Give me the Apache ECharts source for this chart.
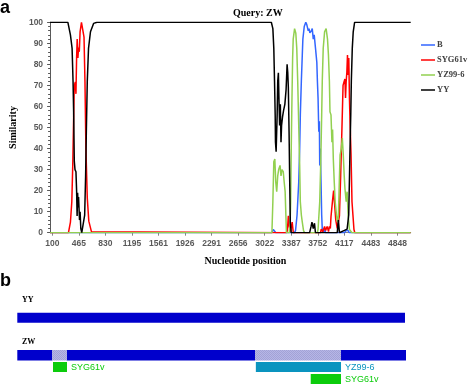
<!DOCTYPE html>
<html>
<head>
<meta charset="utf-8">
<script src="https://cdn.jsdelivr.net/npm/echarts@6.0.0/dist/echarts.min.js"></script>
<style>
  html, body { margin: 0; padding: 0; background: #fff; }
  #chart { width: 473px; height: 384px; }
</style>
</head>
<body>
<div id="chart"></div>
<script>
// similarity plot, query ZW as [nucleotide, similarity %]
const posTicks = [100, 465, 830, 1195, 1561, 1926, 2291, 2656, 3022, 3387, 3752, 4117, 4483, 4848];
const seriesNames = ["B", "SYG61v", "YZ99-6", "YY"];

const simB = [
  [68, 0], [3120, 0], [3140, 1.5], [3160, 1.5], [3175, 0], [3430, 0], [3446, 1], [3467, 8.4],
  [3490, 24], [3503, 40], [3512, 56], [3526, 72], [3539, 84.5], [3547, 92], [3566, 98], [3587, 100],
  [3600, 99], [3610, 98.7], [3621, 96], [3632, 97], [3643, 95], [3654, 95.5], [3665, 96], [3676, 97],
  [3690, 92], [3703, 94], [3721, 87.6], [3739, 81], [3747, 72], [3756, 64], [3766, 48], [3774, 53],
  [3779, 32], [3787, 40], [3797, 24], [3806, 8.4], [3814, 1.5], [3830, 0], [3845, 2], [3860, 0],
  [4120, 0], [4140, 1], [4170, 1], [4185, 0], [5031, 0]
];
const simSYG61v = [
  [68, 0], [321, 0], [348, 5], [367, 14.7], [380, 32], [393, 56], [401, 70], [415, 71.6], [424, 66],
  [433, 83], [441, 92], [451, 83], [460, 88], [470, 86], [481, 95.5], [500, 100], [521, 100],
  [535, 93], [548, 72], [561, 40], [580, 16.5], [601, 5.5], [637, 0.5], [655, 0],
  [3320, 0], [3334, 1], [3347, 8], [3360, 3], [3375, 0.5], [3400, 5], [3415, 0], [3790, 0],
  [3800, 1.7], [3820, 0.5], [3846, 3], [3860, 1], [3881, 3], [3900, 0.5], [3912, 3], [3925, 2],
  [3934, 7.6], [3956, 15.5], [3970, 20], [3985, 13], [4000, 6], [4020, 2], [4036, 2], [4050, 8],
  [4067, 27], [4085, 50], [4100, 70], [4116, 72], [4126, 73], [4134, 64], [4143, 72], [4152, 76],
  [4161, 84.5], [4170, 75], [4179, 83], [4188, 64], [4196, 53], [4210, 37], [4223, 14.7],
  [4236, 8.4], [4250, 1.5], [4262, 0], [5031, 0]
];
const simYZ99 = [
  [68, 0], [3121, 0], [3134, 14.7], [3147, 33.7], [3161, 35], [3174, 24], [3187, 19.5], [3201, 27],
  [3214, 30], [3233, 32], [3246, 27], [3259, 30], [3277, 29], [3290, 24], [3303, 19.5], [3313, 8.4],
  [3321, 0], [3360, 0], [3370, 3], [3379, 14.7], [3387, 40], [3397, 64], [3406, 83], [3414, 92],
  [3433, 97], [3450, 94.8], [3463, 87.6], [3476, 72], [3490, 51], [3503, 32], [3512, 14.7],
  [3526, 8.4], [3539, 5], [3556, 1], [3570, 0], [3745, 0], [3756, 1.5], [3779, 14.7], [3792, 32],
  [3806, 56], [3814, 72], [3827, 87.6], [3846, 95.5], [3867, 97], [3886, 92], [3899, 84.5],
  [3912, 72], [3920, 57.5], [3934, 56], [3947, 43], [3956, 49], [3966, 35], [3979, 24],
  [3992, 14.7], [4010, 8.4], [4023, 5], [4036, 8], [4046, 21], [4059, 37], [4076, 40], [4090, 45],
  [4103, 37], [4116, 27], [4126, 21], [4143, 14.7], [4156, 19.5], [4170, 8.4], [4188, 1.5],
  [4223, 0], [5031, 0]
];
const simYY = [
  [68, 100], [313, 100], [348, 94], [371, 87.6], [384, 72], [393, 56], [401, 34], [411, 30],
  [424, 29], [433, 20], [440, 8], [447, 19], [455, 12], [460, 17], [473, 6], [481, 10], [491, 2],
  [504, 0], [527, 0], [544, 8.4], [557, 27], [567, 48], [580, 72], [597, 87.6], [624, 95.5],
  [668, 99.5], [713, 100], [3113, 100], [3134, 97], [3147, 87.6], [3157, 72], [3166, 56],
  [3170, 43], [3179, 38.5], [3193, 56], [3201, 72], [3210, 76], [3219, 62], [3227, 51], [3237, 61],
  [3246, 43], [3254, 51], [3267, 55], [3281, 58], [3299, 61], [3316, 68], [3330, 80], [3339, 76],
  [3347, 69], [3357, 48], [3366, 24], [3374, 5], [3387, 0], [3640, 0], [3660, 3], [3672, 5],
  [3690, 2], [3707, 4.5], [3720, 0], [4020, 0], [4036, 6], [4050, 0], [4112, 1], [4156, 1.7],
  [4178, 8.4], [4187, 24], [4196, 40], [4206, 56], [4214, 72], [4227, 87.6], [4240, 95.5],
  [4259, 100], [5031, 100]
];

// genome map (b): segments in nucleotides
const yyGenome = [[0, 5017]];
const zwBackbone = [[0, 453], [639, 3076], [4189, 5030]];
const zwInserts = [[453, 639], [3076, 4189]];
const donorNames = ["SYG61v", "YZ99-6", "SYG61v"];
const donorFrom = [462, 3087, 3797];
const donorTo = [643, 4189, 4189];

const lineColors = ["#3366ff", "#ff0000", "#92d050", "#000000"];
const donorColors = { "SYG61v": "#0ccc0c", "YZ99-6": "#0a94bf" };
// vertical bands of the map rows, in the bottom grid's y units (px from its top)
const bands = { yy: [22.7, 32.7], zw: [60, 70.5], donor: [[72, 82], [72, 82], [84, 94]] };

// dotted lavender fill for the recombinant stretches
const dotted = (() => {
  const c = document.createElement("canvas");
  c.width = 2;
  c.height = 2;
  const ctx = c.getContext("2d");
  ctx.fillStyle = "#b6b6e6";
  ctx.fillRect(0, 0, 2, 2);
  ctx.fillStyle = "#a2a2d6";
  ctx.fillRect(0, 0, 1, 1);
  ctx.fillRect(1, 1, 1, 1);
  return { image: c, repeat: "repeat" };
})();

const chart = echarts.init(document.getElementById("chart"), null, { renderer: "canvas" });

const bandRect = (api, start, end, band) => {
  const p0 = api.coord([start, band[0]]);
  const p1 = api.coord([end, band[1]]);
  return { x: p0[0], y: p0[1], width: p1[0] - p0[0], height: p1[1] - p0[1] };
};

const mapSeries = (name, data, color, bandFor, withLabel) => ({
  type: "custom",
  name: name,
  xAxisIndex: 1,
  yAxisIndex: 1,
  silent: true,
  data: data,
  renderItem: (params, api) => {
    const rect = bandRect(api, api.value(0), api.value(1), bandFor(params.dataIndex));
    const fill = typeof color === "function" ? color(params.dataIndex) : color;
    const children = [{ type: "rect", shape: rect, style: { fill: fill } }];
    if (withLabel) {
      children.push({
        type: "text",
        style: {
          text: donorNames[params.dataIndex],
          x: rect.x + rect.width + 4,
          y: rect.y + rect.height / 2 + 0.5,
          verticalAlign: "middle",
          fill: fill,
          font: "9px 'Liberation Sans Narrow', 'Liberation Sans', Arial, sans-serif"
        }
      });
    }
    return { type: "group", children: children };
  }
});

const lineSeries = seriesNames.map((name, i) => ({
  name: name,
  type: "line",
  data: [simB, simSYG61v, simYZ99, simYY][i],
  symbol: "none",
  showSymbol: false,
  lineStyle: { width: 1.5, color: lineColors[i] },
  itemStyle: { color: lineColors[i] },
  z: 2 + i
}));

const option = {
  animation: false,
  title: {
    text: "Query: ZW",
    left: 228,
    top: 3,
    textStyle: { fontFamily: "'Liberation Serif', serif", fontWeight: "bold", fontSize: 10, color: "#000" }
  },
  legend: {
    data: seriesNames,
    orient: "vertical",
    left: 421,
    top: 40,
    padding: 0,
    icon: "rect",
    itemWidth: 14,
    itemHeight: 1.5,
    itemGap: 5,
    textStyle: {
      fontFamily: "'Liberation Serif', serif",
      fontWeight: "bold",
      fontSize: 8.5,
      lineHeight: 10,
      color: "#404040",
      padding: [0, 0, 0, -3]
    }
  },
  grid: [
    { left: 38.3, top: 22.3, width: 372.4, height: 210.4 },
    { left: 17.3, top: 290, width: 388.7, height: 94 }
  ],
  xAxis: [
    {
      type: "value",
      gridIndex: 0,
      min: 68,
      max: 5031,
      name: "Nucleotide position",
      nameLocation: "middle",
      nameGap: 24,
      nameTextStyle: {
        fontFamily: "'Liberation Serif', serif",
        fontWeight: "bold",
        fontSize: 10,
        color: "#000",
        padding: [0, 0, 0, 30]
      },
      axisLine: { show: true, lineStyle: { color: "#868686" } },
      axisTick: { show: true, length: 3, customValues: posTicks, lineStyle: { color: "#868686" } },
      axisLabel: {
        customValues: posTicks,
        margin: 6,
        color: "#595959",
        fontWeight: "bold",
        fontSize: 8.5,
        fontFamily: "'Liberation Sans', Arial, sans-serif",
        formatter: (v) => String(v)
      },
      splitLine: { show: false }
    },
    { type: "value", gridIndex: 1, min: 0, max: 5030, show: false }
  ],
  yAxis: [
    {
      type: "value",
      gridIndex: 0,
      min: 0,
      max: 100,
      interval: 10,
      name: "Similarity",
      nameLocation: "middle",
      nameGap: 28,
      nameTextStyle: { fontFamily: "'Liberation Serif', serif", fontWeight: "bold", fontSize: 10, color: "#000" },
      axisLine: { show: true, lineStyle: { color: "#595959" } },
      axisTick: { show: true, length: 3, lineStyle: { color: "#595959" } },
      minorTick: { show: true, splitNumber: 5, length: 2, lineStyle: { color: "#595959" } },
      axisLabel: {
        margin: 7,
        color: "#595959",
        fontWeight: "bold",
        fontSize: 8.5,
        fontFamily: "'Liberation Sans', Arial, sans-serif"
      },
      splitLine: { show: false }
    },
    { type: "value", gridIndex: 1, min: 0, max: 94, inverse: true, show: false }
  ],
  graphic: [
    { type: "text", left: 0, top: -1, style: { text: "a", font: "bold 18px 'Liberation Sans', Arial, sans-serif", fill: "#000" } },
    { type: "text", left: 0, top: 272, style: { text: "b", font: "bold 18px 'Liberation Sans', Arial, sans-serif", fill: "#000" } },
    { type: "text", left: 22, top: 296, style: { text: "YY", font: "bold 8px 'Liberation Serif', serif", fill: "#000" } },
    { type: "text", left: 22, top: 337.5, style: { text: "ZW", font: "bold 8px 'Liberation Serif', serif", fill: "#000" } }
  ],
  series: [
    ...lineSeries,
    mapSeries("YY map", yyGenome, "#0000cc", () => bands.yy, false),
    mapSeries("ZW map", zwBackbone, "#0000cc", () => bands.zw, false),
    mapSeries("ZW inserts", zwInserts, dotted, () => bands.zw, false),
    mapSeries("donors", donorFrom.map((s, i) => [s, donorTo[i]]), (i) => donorColors[donorNames[i]], (i) => bands.donor[i], true)
  ]
};

chart.setOption(option);
</script>
</body>
</html>
